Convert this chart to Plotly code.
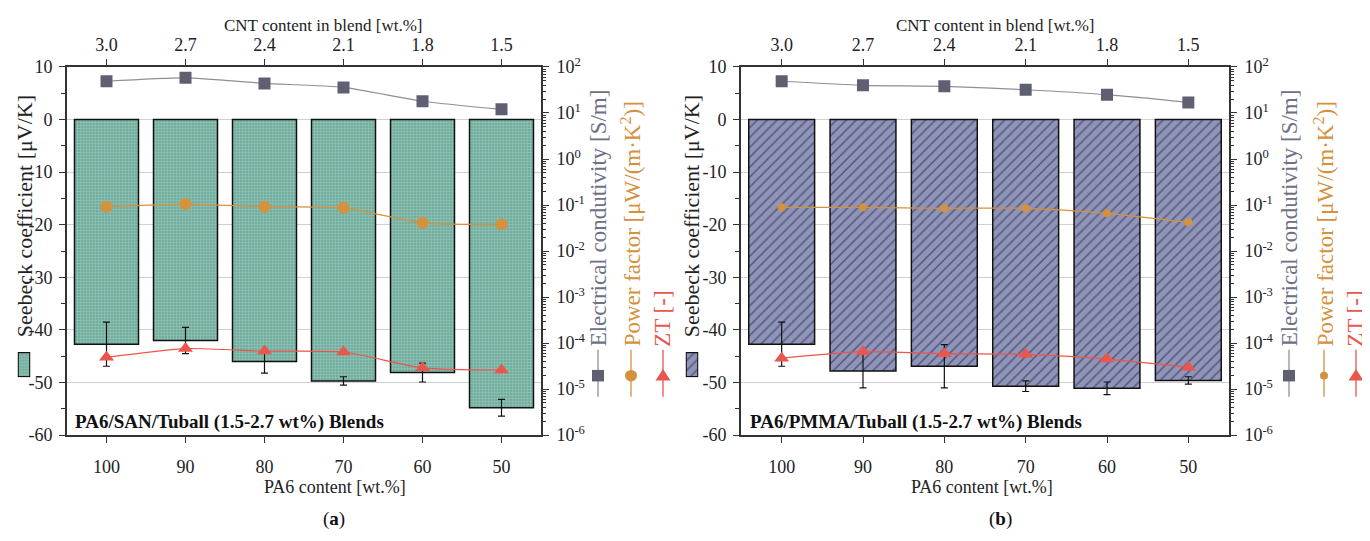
import plotly.graph_objects as go

# page body has an 8px default margin -> figure is drawn at (8, 8)
OFF = 8
W, H = 1370 - OFF, 541 - OFF

# ---------------- data ----------------
pa6_content = ["100", "90", "80", "70", "60", "50"]
cnt_content = ["3.0", "2.7", "2.4", "2.1", "1.8", "1.5"]

seebeck_san = [-42.7, -42.0, -46.0, -49.7, -48.1, -54.8]
seebeck_san_err = [4.2, 2.5, 2.2, 0.8, 1.8, 1.6]
sigma_san = [49, 58, 44, 36, 18, 12]
pf_san = [0.092, 0.105, 0.092, 0.087, 0.041, 0.038]
zt_san = [4.9e-5, 7.6e-5, 6.7e-5, 6.4e-5, 2.9e-5, 2.6e-5]

seebeck_pmma = [-42.7, -47.8, -46.9, -50.7, -51.1, -49.6]
seebeck_pmma_err = [4.2, 3.2, 4.1, 1.0, 1.2, 0.7]
sigma_pmma = [49, 40, 38, 32, 25, 17]
pf_pmma = [0.089, 0.089, 0.085, 0.085, 0.066, 0.042]
zt_pmma = [4.7e-5, 6.5e-5, 5.9e-5, 5.7e-5, 4.5e-5, 3.0e-5]

seebeck_ticks = [10, 0, -10, -20, -30, -40, -50, -60]
seebeck_ticktext = ["10", "0", "-10", "-20", "-30", "-40", "-50", "-60"]
log_ticks = [1e2, 1e1, 1e0, 1e-1, 1e-2, 1e-3, 1e-4, 1e-5, 1e-6]
log_ticktext = ["10<sup>2</sup>", "10<sup>1</sup>", "10<sup>0</sup>", "10<sup>-1</sup>",
                "10<sup>-2</sup>", "10<sup>-3</sup>", "10<sup>-4</sup>", "10<sup>-5</sup>",
                "10<sup>-6</sup>"]
log_minor = [m * 10.0 ** k for k in range(-6, 2) for m in range(2, 10)]

# ---------------- style ----------------
FONT = "Liberation Serif"
AX = "#333333"
GRID = "#d0d0d0"
SIG = "#5e6072"
SIG_LINE = "#8d8e9c"
SIG_TXT = "#6e7085"
PF = "#d4913e"
ZT = "#ea554c"


def px(x):
    return (x - OFF) / W


def py(y):
    return 1 - (y - OFF) / H


fig = go.Figure()
annotations = []
shapes = []

panels = [
    dict(x0=67, x1=541, xa="x", xt="x2", ya="y", yl="y2",
         see=seebeck_san, err=seebeck_san_err, sig=sigma_san, pf=pf_san, zt=zt_san,
         pattern=dict(shape="+", bgcolor="#72ae9f", fgcolor="#bfded5", size=3, solidity=0.33),
         label="PA6/SAN/Tuball (1.5-2.7 wt%) Blends", label_x=73,
         ytitle_x=24, sw=(17.5, 30.5), leg_x=(598, 631, 663), pf_size=12,
         cap="(<b>a</b>)", cap_x=334, xt_x=335, top_x=323, swax=("x5", "y5")),
    dict(x0=741, x1=1229, xa="x3", xt="x4", ya="y3", yl="y4",
         see=seebeck_pmma, err=seebeck_pmma_err, sig=sigma_pmma, pf=pf_pmma, zt=zt_pmma,
         pattern=dict(shape="/", bgcolor="#8f94ba", fgcolor="#1c1c2c", size=7, solidity=0.22),
         label="PA6/PMMA/Tuball (1.5-2.7 wt%) Blends", label_x=748,
         ytitle_x=691, sw=(685.5, 698.5), leg_x=(1289, 1324, 1356), pf_size=8,
         cap="(<b>b</b>)", cap_x=1000, xt_x=982, top_x=995, swax=("x6", "y6")),
]

ydom = [py(441), py(57)]
tickfont = dict(family=FONT, size=18, color="#222222")


def axname(n):
    return n.replace("x", "xaxis").replace("y", "yaxis")


for p in panels:
    xa, xt, ya, yl = p["xa"], p["xt"], p["ya"], p["yl"]
    xdom = [px(p["x0"]), px(p["x1"])]

    # bars (Seebeck coefficient) vs PA6 content
    fig.add_trace(go.Bar(
        x=pa6_content, y=p["see"], xaxis=xa, yaxis=ya, width=0.81,
        marker=dict(color=p["pattern"]["bgcolor"], line=dict(color="#111111", width=1.5),
                    pattern=p["pattern"]),
        error_y=dict(type="data", array=p["err"], color="#111111", thickness=1.2, width=3.5),
        showlegend=False))
    # log-axis series vs CNT content (top axis)
    fig.add_trace(go.Scatter(
        x=cnt_content, y=p["sig"], xaxis=xt, yaxis=yl, mode="lines+markers",
        line=dict(color=SIG_LINE, width=1.2, shape="spline", smoothing=0.6),
        marker=dict(symbol="square", size=12, color=SIG), showlegend=False))
    fig.add_trace(go.Scatter(
        x=cnt_content, y=p["pf"], xaxis=xt, yaxis=yl, mode="lines+markers",
        line=dict(color=PF, width=1.2, shape="spline", smoothing=0.6),
        marker=dict(symbol="circle", size=p["pf_size"], color=PF), showlegend=False))
    fig.add_trace(go.Scatter(
        x=cnt_content, y=p["zt"], xaxis=xt, yaxis=yl, mode="lines+markers",
        line=dict(color=ZT, width=1.2, shape="spline", smoothing=0.6),
        marker=dict(symbol="triangle-up", size=13, color=ZT), showlegend=False))

    common = dict(showline=True, linecolor=AX, linewidth=1.6, ticks="outside",
                  tickcolor=AX, tickwidth=1.3, tickfont=tickfont, zeroline=False)
    fig.update_layout(**{
        axname(xa): dict(domain=xdom, anchor=ya, type="category", range=[-0.5, 5.5],
                         ticklen=6, showgrid=False, ticklabelstandoff=8, **common),
        axname(xt): dict(domain=xdom, anchor=ya, overlaying=xa, side="top", type="category",
                         range=[-0.5, 5.5], ticklen=6, showgrid=False,
                         ticklabelstandoff=1, **common),
        axname(ya): dict(domain=ydom, anchor=xa, range=[-60, 10], tickmode="array",
                         tickvals=seebeck_ticks, ticktext=seebeck_ticktext, ticklen=6,
                         showgrid=True, gridcolor=GRID, gridwidth=1.2, ticklabelstandoff=3,
                         minor=dict(dtick=5, ticks="outside", ticklen=4, tickcolor=AX,
                                    showgrid=False), **common),
        axname(yl): dict(domain=ydom, anchor=xt, overlaying=ya, side="right", type="log",
                         range=[-6, 2], tickmode="array", tickvals=log_ticks,
                         ticktext=log_ticktext, ticklen=6, showgrid=False, ticklabelstandoff=4,
                         minor=dict(tickmode="array", tickvals=log_minor, ticks="outside",
                                    ticklen=3, tickcolor=AX, showgrid=False), **common),
    })

    # legend swatch for bars
    sx, sy = p["swax"]
    fig.add_trace(go.Bar(
        x=["key"], y=[1], xaxis=sx, yaxis=sy, width=1.0,
        marker=dict(color=p["pattern"]["bgcolor"], line=dict(color="#111111", width=1.3),
                    pattern=p["pattern"]), showlegend=False, hoverinfo="skip"))
    fig.update_layout(**{
        axname(sx): dict(domain=[px(p["sw"][0]), px(p["sw"][1])], anchor=sy, visible=False,
                         range=[-0.56, 0.56], fixedrange=True),
        axname(sy): dict(domain=[py(381), py(354)], anchor=sx, visible=False,
                         range=[-0.04, 1.04], fixedrange=True),
    })

    # titles and labels
    annotations += [
        dict(text="Seebeck coefficient [μV/K]", x=px(p["ytitle_x"]), y=py(341),
             xref="paper", yref="paper", xanchor="center", yanchor="bottom",
             textangle=-90, showarrow=False, font=dict(family=FONT, size=22, color="#222222")),
        dict(text="PA6 content [wt.%]", x=px(p["xt_x"]), y=py(495), xref="paper", yref="paper",
             xanchor="center", yanchor="middle", showarrow=False,
             font=dict(family=FONT, size=18, color="#222222")),
        dict(text="CNT content in blend [wt.%]", x=px(p["top_x"]), y=py(14), xref="paper",
             yref="paper", xanchor="center", yanchor="middle", showarrow=False,
             font=dict(family=FONT, size=17, color="#222222")),
        dict(text=p["cap"], x=px(p["cap_x"]), y=py(529), xref="paper", yref="paper",
             xanchor="center", yanchor="middle", showarrow=False,
             font=dict(family=FONT, size=19, color="#111111")),
        dict(text="<b>" + p["label"] + "</b>", x=px(p["label_x"]), y=py(427), xref="paper",
             yref="paper", xanchor="left", yanchor="middle", showarrow=False,
             font=dict(family=FONT, size=19, color="#111111")),
    ]
    lx_sig, lx_pf, lx_zt = p["leg_x"]
    for lx, txt, col in [(lx_sig, "Electrical condutivity [S/m]", SIG_TXT),
                         (lx_pf, "Power factor [μW/(m·K<sup>2</sup>)]", PF),
                         (lx_zt, "ZT [-]", ZT)]:
        annotations.append(dict(text=txt, x=px(lx), y=py(351), xref="paper", yref="paper",
                                xanchor="center", yanchor="bottom", textangle=-90,
                                showarrow=False, font=dict(family=FONT, size=23, color=col)))
    # legend symbols
    for lx, col in [(lx_sig, SIG_LINE), (lx_pf, PF), (lx_zt, ZT)]:
        shapes.append(dict(type="line", xref="paper", yref="paper", x0=px(lx), x1=px(lx),
                           y0=py(352), y1=py(401), line=dict(color=col, width=1.3)))
    shapes.append(dict(type="rect", xref="paper", yref="paper", x0=px(lx_sig - 6),
                       x1=px(lx_sig + 6), y0=py(385), y1=py(373), fillcolor=SIG,
                       line=dict(width=0)))
    r = p["pf_size"] / 2
    shapes.append(dict(type="circle", xref="paper", yref="paper", x0=px(lx_pf - r),
                       x1=px(lx_pf + r), y0=py(379 + r), y1=py(379 - r), fillcolor=PF,
                       line=dict(width=0)))
    shapes.append(dict(type="path", xref="paper", yref="paper",
                       path="M {a},{b} L {c},{b} L {d},{e} Z".format(
                           a=px(lx_zt - 7.5), b=py(384), c=px(lx_zt + 7.5), d=px(lx_zt),
                           e=py(372)),
                       fillcolor=ZT, line=dict(width=0)))

fig.update_layout(
    width=W, height=H, margin=dict(l=0, r=0, t=0, b=0),
    paper_bgcolor="white", plot_bgcolor="white",
    annotations=annotations, shapes=shapes, bargap=0.2,
    font=dict(family=FONT, size=18, color="#222222"),
)

fig.write_html("out.html")
